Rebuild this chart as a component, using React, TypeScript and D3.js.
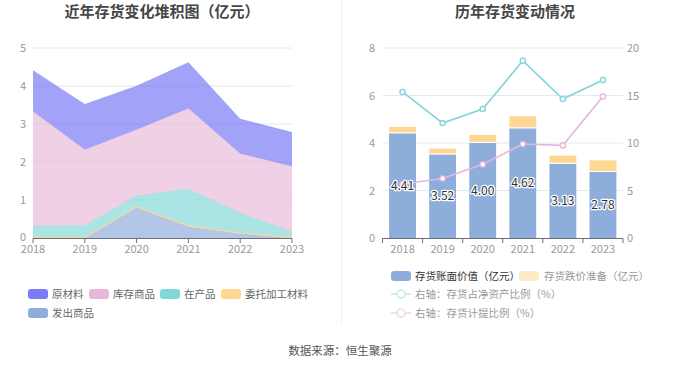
import * as d3 from 'd3'

// ── data ─────────────────────────────────────────────────────────────────────
const YEARS = ['2018', '2019', '2020', '2021', '2022', '2023']

// stacked area (亿元), bottom → top
const FACHU    = [0.00, 0.00, 0.80, 0.30, 0.12, 0.00]  // 发出商品
const WEITUO   = [0.02, 0.01, 0.02, 0.02, 0.01, 0.01]  // 委托加工材料
const ZAICHAN  = [0.30, 0.32, 0.29, 0.97, 0.53, 0.15]  // 在产品
const KUCUN    = [3.01, 1.99, 1.74, 2.12, 1.56, 1.72]  // 库存商品
const YUANCAI  = [1.08, 1.20, 1.15, 1.21, 0.91, 0.90]  // 原材料

// bars (亿元) + lines (%)
const BOOK       = [4.41, 3.52, 4.00, 4.62, 3.13, 2.78]
const PROVISION  = [0.27, 0.24, 0.34, 0.51, 0.34, 0.49]
const NET_RATIO  = [15.37, 12.1, 13.58, 18.66, 14.63, 16.63]
const PROV_RATIO = [5.68, 6.27, 7.75, 9.89, 9.75, 14.9]

const LEFT_TICKS = [0, 1, 2, 3, 4, 5]
const RL_TICKS   = [0, 2, 4, 6, 8]
const RR_TICKS   = [0, 5, 10, 15, 20]

// ── style ────────────────────────────────────────────────────────────────────
const FONT = '"Noto Sans CJK SC", "Noto Sans", sans-serif'
const GRID = '#E3E8F2'
const AXIS = '#6E7079'
const TICK = '#999'

const SERIES = [
  { key: 'fachu',   name: '发出商品',     vals: FACHU,   col: '#8DA9DC' },
  { key: 'weituo',  name: '委托加工材料', vals: WEITUO,  col: '#FFD591' },
  { key: 'zaichan', name: '在产品',       vals: ZAICHAN, col: '#80D6D6' },
  { key: 'kucun',   name: '库存商品',     vals: KUCUN,   col: '#E7B8D7' },
  { key: 'yuancai', name: '原材料',       vals: YUANCAI, col: '#7272F5' },
]

const C_BAR  = '#8DADDB'
const C_PROV = '#FFD794'
const C_NET  = '#7FD5DA'
const C_PRAT = '#E6B5DC'

export default function App() {
  // ── left chart ────────────────────────────────────────────────────────────
  const lx = d3.scalePoint<string>().domain(YEARS).range([33, 292])
  const ly = d3.scaleLinear().domain([0, 5]).range([238, 48])

  const rows = YEARS.map((_, i) => {
    const r: Record<string, number> = {}
    SERIES.forEach(s => { r[s.key] = s.vals[i] })
    return r
  })
  const stacked = d3.stack<Record<string, number>>().keys(SERIES.map(s => s.key))(rows)
  const area = d3.area<d3.SeriesPoint<Record<string, number>>>()
    .x((_, i) => lx(YEARS[i])!)
    .y0(d => ly(d[0]))
    .y1(d => ly(d[1]))
  const topLine = d3.line<d3.SeriesPoint<Record<string, number>>>()
    .x((_, i) => lx(YEARS[i])!)
    .y(d => ly(d[1]))

  // ── right chart ───────────────────────────────────────────────────────────
  const rx = d3.scaleBand<string>().domain(YEARS).range([382.5, 623]).paddingInner(0.33).paddingOuter(0.165)
  const ryL = d3.scaleLinear().domain([0, 8]).range([238, 48])
  const ryR = d3.scaleLinear().domain([0, 20]).range([238, 48])
  const cx = (y: string) => rx(y)! + rx.bandwidth() / 2
  const lineR = d3.line<number>().x((_, i) => cx(YEARS[i])).y(v => ryR(v))

  const legendLeft = [
    { name: '原材料', col: '#7B7BF6', x: 28, y: 294 },
    { name: '库存商品', col: '#E8B8D8', x: 89, y: 294 },
    { name: '在产品', col: '#82D7D8', x: 160, y: 294 },
    { name: '委托加工材料', col: '#FFD591', x: 221, y: 294 },
    { name: '发出商品', col: '#8DADDB', x: 28, y: 313 },
  ]

  return (
    <svg width={680} height={367} style={{ position: 'fixed', left: 0, top: 0, fontFamily: FONT, background: '#fff' }}>
      {/* titles */}
      <text x={162} y={17} textAnchor="middle" fontSize={15} fontWeight="bold" fill="#464646">近年存货变化堆积图（亿元）</text>
      <text x={515} y={17} textAnchor="middle" fontSize={15} fontWeight="bold" fill="#464646">历年存货变动情况</text>

      {/* separator */}
      <line x1={341.5} x2={341.5} y1={0} y2={324} stroke="#F0F0F0" />

      {/* ── left chart ─────────────────────────────────────────────── */}
      {LEFT_TICKS.filter(t => t > 0).map(t => (
        <line key={t} x1={33} x2={292} y1={ly(t)} y2={ly(t)} stroke={GRID} />
      ))}
      {LEFT_TICKS.map(t => (
        <text key={t} x={26} y={ly(t) + (t === 0 ? 3 : 4)} textAnchor="end" fontSize={11} fill={TICK}>{t}</text>
      ))}
      {stacked.map((layer, i) => (
        <path key={layer.key} d={area(layer) ?? ''} fill={SERIES[i].col} fillOpacity={0.66} />
      ))}
      {stacked.map((layer, i) => (
        <path key={layer.key} d={topLine(layer) ?? ''} fill="none" stroke={SERIES[i].col} strokeWidth={i === 1 ? 1.2 : 0.6} strokeOpacity={i === 1 ? 0.9 : 0.4} />
      ))}
      <line x1={33} x2={292} y1={238.5} y2={238.5} stroke={AXIS} />
      {YEARS.map(y => (
        <g key={y}>
          <line x1={lx(y)!} x2={lx(y)!} y1={238.5} y2={243} stroke={AXIS} />
          <text x={lx(y)!} y={253} textAnchor="middle" fontSize={11} fill={TICK}>{y}</text>
        </g>
      ))}

      {/* left legend */}
      {legendLeft.map(l => (
        <g key={l.name}>
          <rect x={l.x} y={l.y - 5} width={20} height={10} rx={3} fill={l.col} />
          <text x={l.x + 24} y={l.y + 4} fontSize={10.5} fill="#666">{l.name}</text>
        </g>
      ))}

      {/* ── right chart ───────────────────────────────────────────── */}
      {RL_TICKS.filter(t => t > 0).map(t => (
        <line key={t} x1={382.5} x2={623} y1={ryL(t)} y2={ryL(t)} stroke={GRID} />
      ))}
      {RL_TICKS.map(t => (
        <text key={t} x={375} y={ryL(t) + 4} textAnchor="end" fontSize={11} fill={TICK}>{t}</text>
      ))}
      {RR_TICKS.map(t => (
        <text key={t} x={627} y={ryR(t) + 4} textAnchor="start" fontSize={11} fill={TICK}>{t}</text>
      ))}
      {YEARS.map((y, i) => (
        <g key={y}>
          <rect x={rx(y)!} y={ryL(BOOK[i])} width={rx.bandwidth()} height={ryL(0) - ryL(BOOK[i])} fill={C_BAR} />
          <rect x={rx(y)!} y={ryL(BOOK[i] + PROVISION[i])} width={rx.bandwidth()} height={ryL(BOOK[i]) - ryL(BOOK[i] + PROVISION[i])} fill={C_PROV} />
          <line x1={rx(y)!} x2={rx(y)! + rx.bandwidth()} y1={ryL(BOOK[i]) - 0.5} y2={ryL(BOOK[i]) - 0.5} stroke="#fff" strokeWidth={1} />
        </g>
      ))}
      <line x1={382.5} x2={623} y1={238.5} y2={238.5} stroke={AXIS} />
      {YEARS.map(y => (
        <g key={y}>
          <line x1={rx(y)! - rx.step() * rx.paddingInner() / 2} x2={rx(y)! - rx.step() * rx.paddingInner() / 2} y1={238.5} y2={243} stroke={AXIS} />
          <text x={cx(y)} y={253} textAnchor="middle" fontSize={11} fill={TICK}>{y}</text>
        </g>
      ))}
      <line x1={623} x2={623} y1={238.5} y2={243} stroke={AXIS} />

      <path d={lineR(NET_RATIO) ?? ''} fill="none" stroke={C_NET} strokeWidth={1.6} />
      {NET_RATIO.map((v, i) => (
        <circle key={i} cx={cx(YEARS[i])} cy={ryR(v)} r={2.6} fill="#fff" stroke={C_NET} strokeWidth={1.4} />
      ))}
      <path d={lineR(PROV_RATIO) ?? ''} fill="none" stroke={C_PRAT} strokeWidth={1.6} />
      {PROV_RATIO.map((v, i) => (
        <circle key={i} cx={cx(YEARS[i])} cy={ryR(v)} r={2.6} fill="#fff" stroke={C_PRAT} strokeWidth={1.4} />
      ))}

      {BOOK.map((v, i) => (
        <text key={i} x={cx(YEARS[i])} y={ryL(v / 2) + 4} textAnchor="middle" fontSize={12} fill="#333"
          stroke="#fff" strokeWidth={2.5} paintOrder="stroke" strokeLinejoin="round">{v.toFixed(2)}</text>
      ))}

      {/* right legend */}
      <rect x={391} y={271} width={20} height={10} rx={3} fill={C_BAR} />
      <text x={415} y={280} fontSize={10.5} fill="#333">存货账面价值（亿元）</text>
      <rect x={519} y={271} width={20} height={10} rx={3} fill="#FFEAC8" />
      <text x={544} y={280} fontSize={10.5} fill="#999">存货跌价准备（亿元）</text>

      <line x1={391} x2={411} y1={294} y2={294} stroke="#BDEBED" strokeWidth={1.5} />
      <circle cx={401} cy={294} r={4} fill="#fff" stroke="#BDEBED" strokeWidth={1.5} />
      <text x={415} y={298} fontSize={10.5} fill="#999">右轴：存货占净资产比例（%）</text>

      <line x1={391} x2={411} y1={313} y2={313} stroke="#F3D5EC" strokeWidth={1.5} />
      <circle cx={401} cy={313} r={4} fill="#fff" stroke="#F3D5EC" strokeWidth={1.5} />
      <text x={415} y={317} fontSize={10.5} fill="#999">右轴：存货计提比例（%）</text>

      {/* footer */}
      <text x={340} y={355} textAnchor="middle" fontSize={11.5} fill="#555">数据来源：恒生聚源</text>
    </svg>
  )
}
